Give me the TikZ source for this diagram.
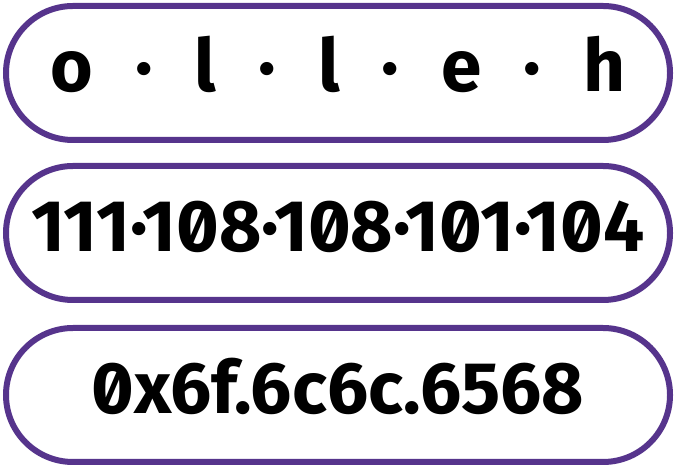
\documentclass[tikz,border=0pt]{standalone}
\usepackage{fontspec}
\usepackage{tikz}
\newfontfamily\pillfont[Numbers=SlashedZero]{Fira Sans}
\definecolor{pillpurple}{RGB}{86,52,140}
\tikzset{pill/.style = {draw=pillpurple, line width=6pt, fill=white,
                        rounded corners=67pt,
                        minimum width=664pt, minimum height=134pt,
                        text height=45pt, text depth=7pt,
                        font=\pillfont\bfseries\fontsize{73pt}{78pt}\selectfont}}
\newcommand\dotgap{\hspace{42pt}·\hspace{42pt}}

\begin{document}
\begin{tikzpicture}[x=1pt, y=1pt]
    \useasboundingbox (0, 0) rectangle (676, 470);

    \node [pill] (chars) at (338, 397) {o\dotgap l\dotgap l\dotgap e\dotgap h};
    \node [pill] (dec) at (338, 237) {111·108·108·101·104};
    \node [pill] (hex) at (338, 75) {0x6f.6c6c.6568};
  \end{tikzpicture}
\end{document}
